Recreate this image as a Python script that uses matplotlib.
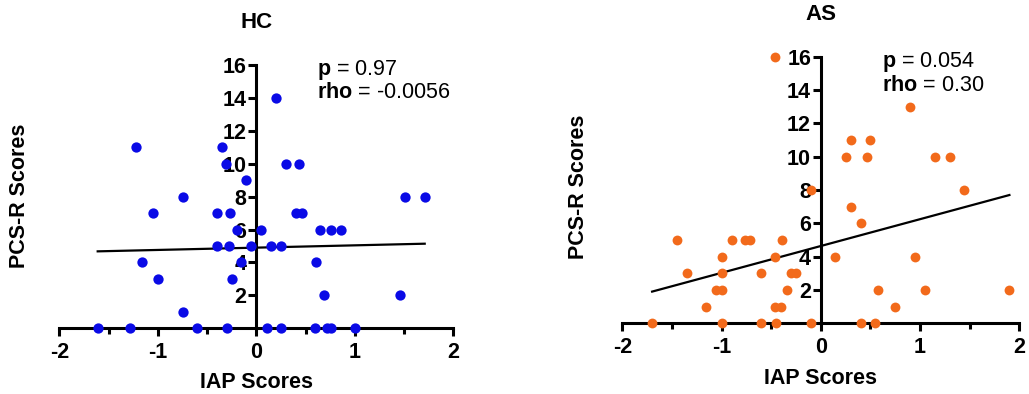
import numpy as np
import matplotlib
matplotlib.use('Agg')
import matplotlib.pyplot as plt

plt.rcParams['font.family'] = ['Liberation Sans', 'DejaVu Sans']
plt.rcParams['axes.unicode_minus'] = False
plt.rcParams['mathtext.fontset'] = 'custom'
plt.rcParams['mathtext.bf'] = 'Liberation Sans:bold'
plt.rcParams['mathtext.rm'] = 'Liberation Sans'

# HC group: IAP scores vs PCS-R scores
hc_x = [-1.61, -1.28, -1.22, -1.05, -1.16, -1.00, -0.74, -0.74, -0.60, -0.40,
        -0.35, -0.31, -0.27, -0.10, -0.20, -0.40, -0.28, -0.05, -0.16, -0.25,
        -0.30, 0.05, 0.20, 0.15, 0.25, 0.30, 0.43, 0.40, 0.46, 0.65,
        0.76, 0.86, 0.61, 0.69, 0.11, 0.25, 0.60, 0.72, 0.76, 1.00,
        1.51, 1.71, 1.46]
hc_y = [0, 0, 11, 7, 4, 3, 8, 1, 0, 7,
        11, 10, 7, 9, 6, 5, 5, 5, 4, 3,
        0, 6, 14, 5, 5, 10, 10, 7, 7, 6,
        6, 6, 4, 2, 0, 0, 0, 0, 0, 0,
        8, 8, 2]

# AS group
as_x = [-1.70, -1.45, -1.35, -1.16, -1.06, -1.00, -1.00, -1.00, -1.00, -0.90,
        -0.76, -0.71, -0.60, -0.60, -0.46, -0.46, -0.46, -0.40, -0.45, -0.39,
        -0.34, -0.30, -0.25, -0.10, -0.10, 0.14, 0.25, 0.30, 0.30, 0.40,
        0.40, 0.47, 0.50, 0.55, 0.58, 0.75, 0.90, 0.95, 1.05, 1.15,
        1.30, 1.44, 1.90]
as_y = [0, 5, 3, 1, 2, 2, 3, 4, 0, 5,
        5, 5, 3, 0, 16, 4, 1, 1, 0, 5,
        2, 3, 3, 8, 0, 4, 10, 11, 7, 6,
        0, 10, 11, 0, 2, 1, 13, 4, 2, 10,
        10, 8, 2]

# regression lines (slope, intercept) and stats text
hc_fit = (0.14, 4.90)
as_fit = (1.61, 4.64)
hc_stats = ('0.97', '-0.0056')
as_stats = ('0.054', '0.30')

x_ticks = [-2, -1, 0, 1, 2]
y_ticks = [2, 4, 6, 8, 10, 12, 14, 16]

fig = plt.figure(figsize=(10.29, 3.94), dpi=100)
ax1 = fig.add_axes([0.0576, 0.1668, 0.3829, 0.6683])
ax2 = fig.add_axes([0.6048, 0.1794, 0.3858, 0.6767])

FS = 15.5


def style_panel(ax, x, y, color, fit, stats, title, title_y, ylab_x, ylab_y, xlab_y, msize):
    ax.scatter(x, y, s=msize, color=color, zorder=4, clip_on=False, linewidths=0)
    xs = np.array([min(x), max(x)])
    ax.plot(xs, fit[0] * xs + fit[1], color='black', lw=1.6, zorder=3)

    ax.set_xlim(-2, 2)
    ax.set_ylim(0, 16)
    ax.spines['left'].set_position(('data', 0))
    ax.spines['bottom'].set_position(('data', 0))
    ax.spines['top'].set_visible(False)
    ax.spines['right'].set_visible(False)
    for s in ['left', 'bottom']:
        ax.spines[s].set_linewidth(2.2)
        ax.spines[s].set_capstyle('projecting')

    ax.set_xticks(x_ticks)
    ax.set_xticks([-1.5, -0.5, 0.5, 1.5], minor=True)
    ax.set_yticks(y_ticks)
    ax.tick_params(axis='both', which='major', length=6, width=2.2,
                   direction='out', labelsize=FS)
    ax.tick_params(axis='x', which='minor', length=4, width=2.2, direction='out')
    for lab in ax.get_xticklabels() + ax.get_yticklabels():
        lab.set_fontweight('bold')
    ax.tick_params(axis='y', pad=1)
    ax.tick_params(axis='x', pad=4)

    ax.text(0.62, 15.7, r'$\bf{p}$ = ' + stats[0], fontsize=FS, va='center')
    ax.text(0.62, 14.3, r'$\bf{rho}$ = ' + stats[1], fontsize=FS, va='center')

    # titles and axis labels placed in figure coordinates
    bb = ax.get_position()
    cx = bb.x0 + bb.width / 2
    fig.text(cx, title_y, title, fontsize=16, fontweight='bold', ha='center', va='center')
    fig.text(cx, xlab_y, 'IAP Scores', fontsize=FS, fontweight='bold', ha='center', va='center')
    fig.text(ylab_x, ylab_y, 'PCS-R Scores', fontsize=FS, fontweight='bold',
             ha='center', va='center', rotation=90)


style_panel(ax1, hc_x, hc_y, '#0a0ae6', hc_fit, hc_stats, 'HC', 1 - 22 / 394,
            20 / 1029, 1 - 196 / 394, 1 - 383 / 394, 55)
style_panel(ax2, as_x, as_y, '#f26a1b', as_fit, as_stats, 'AS', 1 - 15 / 394,
            579 / 1029, 1 - 187 / 394, 1 - 379 / 394, 50)

fig.savefig('out.png', dpi=100)
